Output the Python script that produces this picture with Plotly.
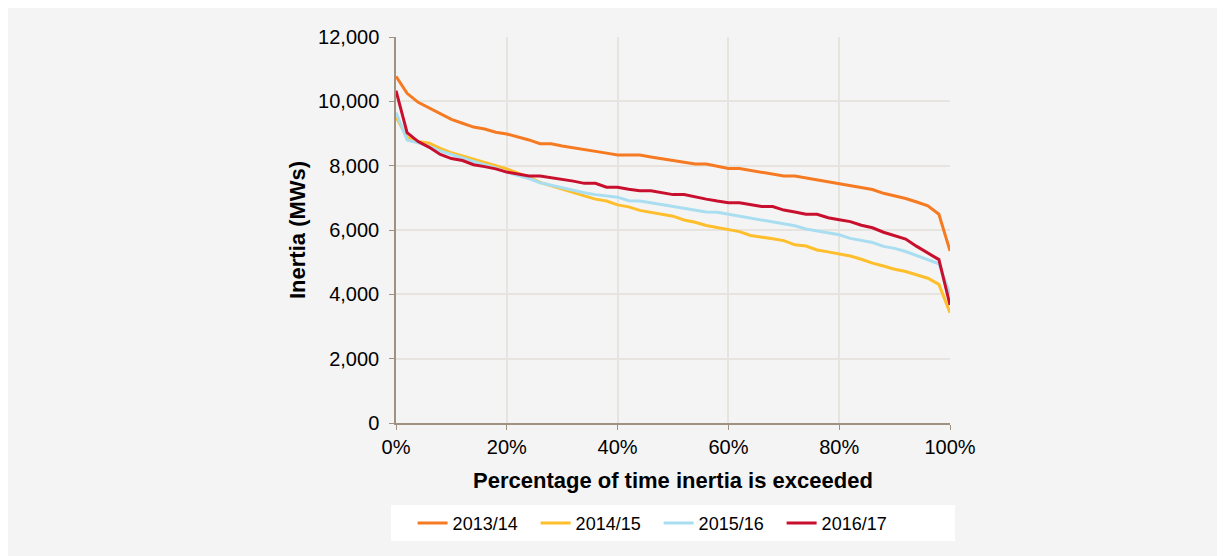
import plotly.graph_objects as go

pct = list(range(0, 101, 2))

inertia_2013_14 = [10780, 10250, 9970, 9800, 9630, 9440, 9320, 9200, 9140, 9040,
                   8985, 8900, 8800, 8680, 8680, 8610, 8560, 8500, 8450, 8390,
                   8330, 8330, 8330, 8270, 8210, 8160, 8100, 8050, 8050, 7980,
                   7910, 7910, 7850, 7790, 7730, 7680, 7680, 7620, 7560, 7500,
                   7440, 7380, 7320, 7260, 7140, 7070, 6980, 6870, 6750, 6490,
                   5350]
inertia_2014_15 = [9520, 8880, 8750, 8700, 8540, 8400, 8300, 8200, 8090, 7990,
                   7900, 7770, 7640, 7480, 7370, 7270, 7160, 7060, 6960, 6900,
                   6780, 6720, 6610, 6550, 6490, 6430, 6310, 6240, 6140, 6080,
                   6020, 5950, 5830, 5790, 5730, 5670, 5540, 5500, 5380, 5320,
                   5250, 5190, 5090, 4970, 4880, 4780, 4710, 4600, 4500, 4310,
                   3430]
inertia_2015_16 = [9650, 8800, 8710, 8600, 8460, 8340, 8240, 8130, 8020, 7930,
                   7790, 7700, 7600, 7470, 7390, 7320, 7220, 7160, 7100, 7060,
                   7020, 6910, 6900, 6850, 6790, 6730, 6680, 6620, 6560, 6550,
                   6490, 6430, 6380, 6320, 6270, 6200, 6130, 6030, 5970, 5920,
                   5850, 5740, 5680, 5610, 5490, 5430, 5330, 5200, 5080, 4950,
                   4000]
inertia_2016_17 = [10330, 9030, 8750, 8570, 8350, 8220, 8160, 8030, 7970, 7900,
                   7800, 7730, 7680, 7680, 7630, 7580, 7520, 7450, 7450, 7330,
                   7330, 7270, 7220, 7220, 7160, 7100, 7100, 7020, 6960, 6900,
                   6850, 6850, 6790, 6730, 6730, 6620, 6560, 6490, 6490, 6380,
                   6320, 6260, 6150, 6070, 5930, 5830, 5720, 5490, 5290, 5080,
                   3670]

series = [
    ("2013/14", inertia_2013_14, "#f57a22"),
    ("2014/15", inertia_2014_15, "#ffbe2b"),
    ("2015/16", inertia_2015_16, "#a9def0"),
    ("2016/17", inertia_2016_17, "#c8102e"),
]

bg = "#f5f4f4"
axis_col = "#a09282"
grid_col = "#e7e4df"
font_family = "Liberation Sans, Arial, sans-serif"

fig = go.Figure()
for name, vals, col in series:
    fig.add_trace(go.Scatter(x=pct, y=vals, name=name, mode="lines",
                             line=dict(color=col, width=3)))

fig.update_layout(
    width=1217, height=548,
    margin=dict(l=388, r=275, t=29, b=133),
    paper_bgcolor=bg, plot_bgcolor=bg,
    font=dict(family=font_family, size=20, color="#000000"),
    showlegend=True,
    legend=dict(orientation="h", x=0.03, xanchor="left", y=-0.212, yanchor="top",
                bgcolor="rgba(0,0,0,0)", font=dict(size=18), entrywidth=78,
                traceorder="normal"),
    shapes=[
        # white legend panel
        dict(type="rect", xref="paper", yref="paper", x0=-0.009, x1=1.009,
             y0=-0.3057, y1=-0.2124, fillcolor="#ffffff", line=dict(width=0),
             layer="below"),
    ],
    annotations=[
        dict(text="<b>Inertia (MWs)</b>", xref="paper", yref="paper", x=-0.1787, y=0.5,
             xanchor="center", yanchor="middle", textangle=-90, showarrow=False,
             font=dict(size=22)),
        dict(text="<b>Percentage of time inertia is exceeded</b>", xref="paper", yref="paper",
             x=0.5, y=-0.1477, xanchor="center", yanchor="middle", showarrow=False,
             font=dict(size=22)),
    ],
)

fig.update_xaxes(range=[0, 100], dtick=20, ticksuffix="%", showgrid=True,
                 gridcolor=grid_col, gridwidth=1.5, showline=True, linecolor=axis_col,
                 linewidth=1.5, ticks="outside", ticklen=5, tickcolor=axis_col,
                 zeroline=False, tickfont=dict(size=20))
fig.update_yaxes(range=[0, 12000], dtick=2000, tickformat=",", showgrid=True,
                 gridcolor=grid_col, gridwidth=1.5, showline=True, linecolor=axis_col,
                 linewidth=1.5, ticks="outside", ticklen=5, tickcolor=axis_col,
                 zeroline=False, tickfont=dict(size=20), ticklabelstandoff=6)

fig.write_html("out.html")
